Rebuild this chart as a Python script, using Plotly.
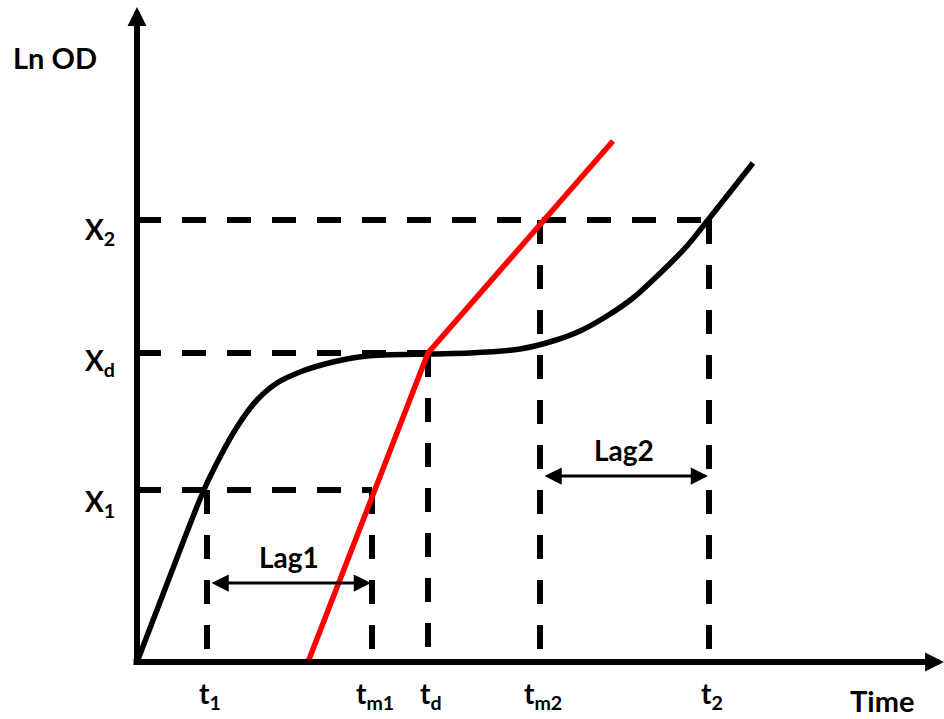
import plotly.graph_objects as go

# ---- data (time units / ln OD units) ----
curve_t = [0, 33, 66, 83, 100, 120, 140, 163, 196, 230, 293, 333, 383, 416, 443, 470, 496, 516, 550, 571, 616]
curve_od = [0, 86, 170, 205, 235, 262, 279, 290, 300, 306, 308, 309, 313, 321, 331, 346, 364, 382, 416, 442, 499]

red_t = [171, 291, 476]
red_od = [0, 309, 521]

t_keys = [70, 235, 291, 403, 572]          # t1, tm1, td, tm2, t2
t_labels = ["t<sub>1</sub>", "t<sub>m1</sub>", "t<sub>d</sub>", "t<sub>m2</sub>", "t<sub>2</sub>"]
x_keys = [172, 309, 442]                    # X1, Xd, X2
x_labels = ["X<sub>1</sub>", "X<sub>d</sub>", "X<sub>2</sub>"]

lag_names = ["Lag1", "Lag2"]
lag_starts = [70, 403]
lag_ends = [235, 572]
lag_levels = [79, 186]

axis_t_max = 807
axis_od_max = 655

t1, tm1, td, tm2, t2 = t_keys
X1, Xd, X2 = x_keys

FONT = dict(family="Lato", size=28, color="black", weight="bold")
DASH = "24px,21px"

fig = go.Figure()

# dashed guide lines
h_lines = [(X1, tm1), (Xd, td), (X2, t2)]
for lvl, end in h_lines:
    fig.add_trace(go.Scatter(x=[0, end], y=[lvl, lvl], mode="lines",
                             line=dict(color="black", width=6, dash=DASH),
                             hoverinfo="skip", showlegend=False))
v_lines = [(t1, X1), (tm1, X1), (td, Xd), (tm2, X2), (t2, X2)]
for tv, top in v_lines:
    fig.add_trace(go.Scatter(x=[tv, tv], y=[top, 0], mode="lines",
                             line=dict(color="black", width=6, dash=DASH),
                             hoverinfo="skip", showlegend=False))

# growth curve
fig.add_trace(go.Scatter(x=curve_t, y=curve_od, mode="lines",
                         line=dict(color="black", width=5.5, shape="spline", smoothing=0.8),
                         hoverinfo="skip", showlegend=False))
# tangent lines
fig.add_trace(go.Scatter(x=red_t, y=red_od, mode="lines",
                         line=dict(color="#ff0000", width=5.5),
                         hoverinfo="skip", showlegend=False))

ann = []
# axes as arrows
ann.append(dict(x=axis_t_max, y=0, ax=-5, ay=0, xref="x", yref="y", axref="x", ayref="y",
                text="", showarrow=True, arrowhead=2, arrowwidth=6, arrowsize=0.63,
                arrowcolor="black", standoff=0))
ann.append(dict(x=0, y=axis_od_max, ax=0, ay=-3, xref="x", yref="y", axref="x", ayref="y",
                text="", showarrow=True, arrowhead=2, arrowwidth=6, arrowsize=0.63,
                arrowcolor="black", standoff=0))

# lag arrows
for name, s, e, lv in zip(lag_names, lag_starts, lag_ends, lag_levels):
    ann.append(dict(x=e - 1, y=lv, ax=s + 3, ay=lv, xref="x", yref="y", axref="x", ayref="y",
                    text="", showarrow=True, arrowhead=2, startarrowhead=2,
                    arrowside="end+start", arrowwidth=3, arrowsize=1.15, startarrowsize=1.15,
                    arrowcolor="black", standoff=0, startstandoff=0))
    ann.append(dict(x=(s + e) / 2 - 1, y=lv + 26, xref="x", yref="y", text=name,
                    showarrow=False, font=FONT, xanchor="center", yanchor="middle"))

# tick labels
for tv, lab in zip(t_keys, t_labels):
    ann.append(dict(x=tv + 3, y=-33, xref="x", yref="y", text=lab, showarrow=False,
                    font=FONT, xanchor="center", yanchor="middle"))
for lv, lab, off in zip(x_keys, x_labels, [-13, -9, -11]):
    ann.append(dict(x=-20, y=lv + off, xref="x", yref="y", text=lab, showarrow=False,
                    font=FONT, xanchor="right", yanchor="middle"))

ann.append(dict(x=-82, y=605, xref="x", yref="y", text="Ln OD", showarrow=False,
                font=dict(family="Lato", size=29, color="black", weight="bold"),
                xanchor="center", yanchor="middle"))
ann.append(dict(x=745, y=-38, xref="x", yref="y", text="Time", showarrow=False,
                font=dict(family="Lato", size=29, color="black", weight="bold"),
                xanchor="center", yanchor="middle"))

fig.update_layout(
    width=944, height=719,
    margin=dict(l=0, r=0, t=0, b=0),
    paper_bgcolor="white", plot_bgcolor="white",
    xaxis=dict(range=[-137, 807], visible=False, fixedrange=True),
    yaxis=dict(range=[-57, 662], visible=False, fixedrange=True),
    annotations=ann,
    showlegend=False,
)

fig.write_html("out.html", config={"displayModeBar": False},
               post_script="document.body.style.margin='0';document.body.style.overflow='hidden';")
